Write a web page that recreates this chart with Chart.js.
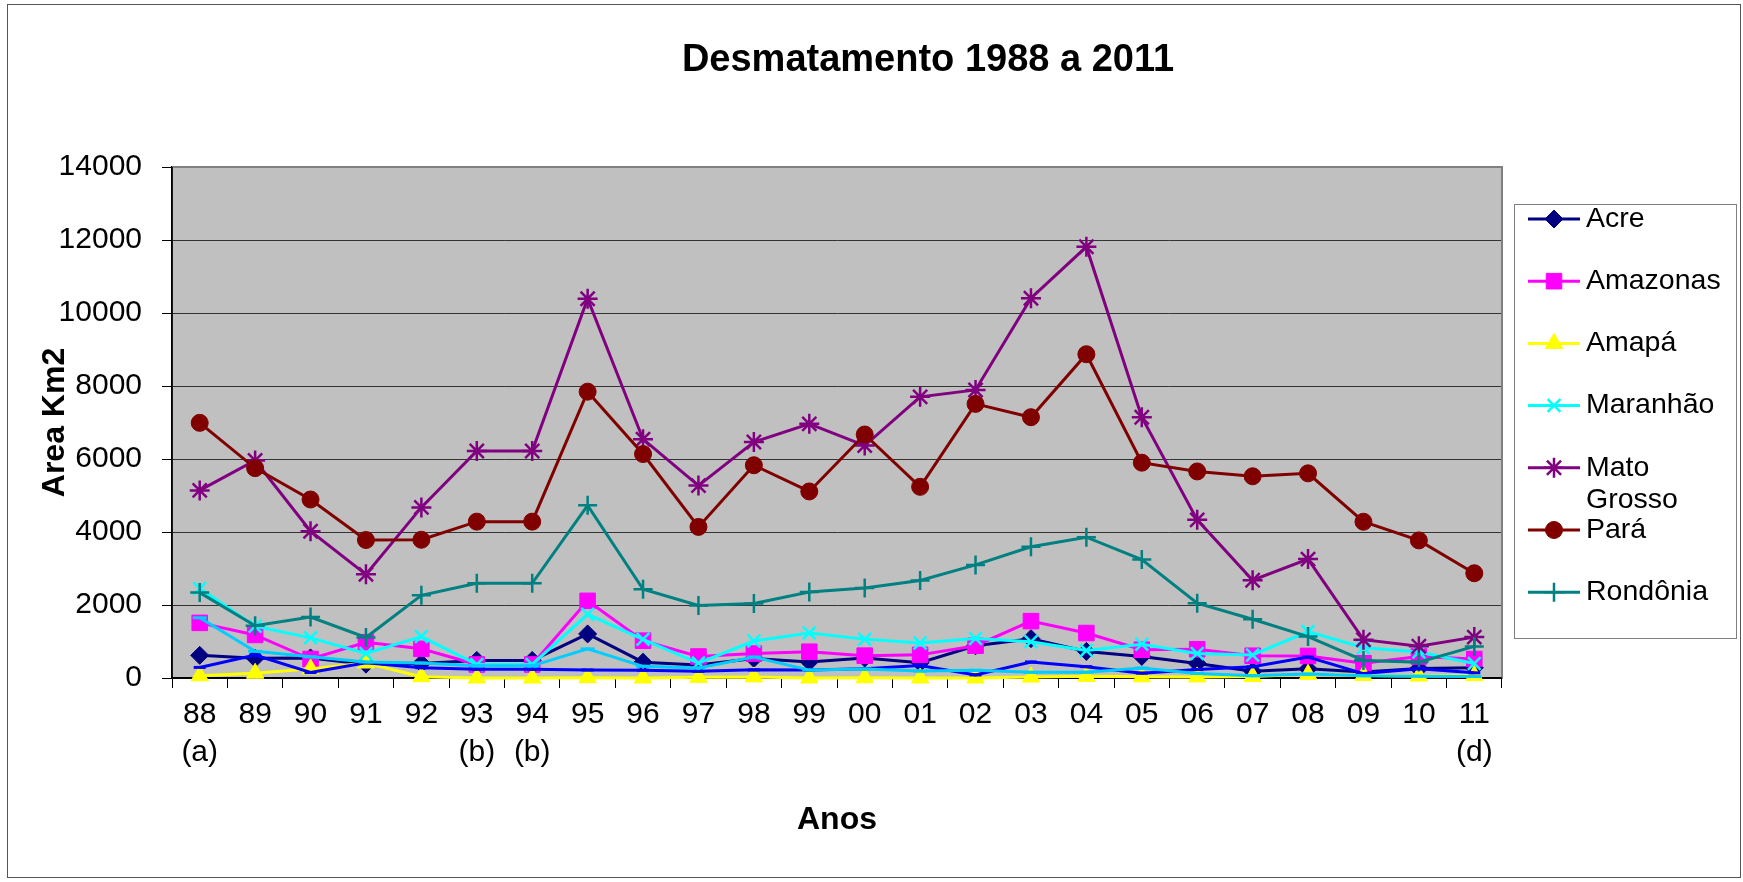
<!DOCTYPE html>
<html><head><meta charset="utf-8">
<style>html,body{margin:0;padding:0;background:#fff;overflow:hidden;}</style>
<script src="https://cdn.jsdelivr.net/npm/chart.js@4.4.1/dist/chart.umd.min.js"></script>
</head><body>
<canvas id="c" width="1743" height="882" style="display:block;width:1743px;height:882px"></canvas>
<script>
// ---- data ----
const years = ["88","89","90","91","92","93","94","95","96","97","98","99","00","01","02","03","04","05","06","07","08","09","10","11"];
const notes = ["(a)","","","","","(b)","(b)","","","","","","","","","","","","","","","","","(d)"];
const acre       = [620, 540, 550, 380, 400, 482, 482, 1208, 433, 358, 536, 441, 547, 419, 883, 1078, 728, 592, 398, 184, 254, 167, 259, 280];
const amazonas   = [1510, 1180, 520, 980, 799, 370, 370, 2114, 1023, 589, 670, 720, 612, 634, 885, 1558, 1232, 775, 788, 610, 604, 405, 590, 520];
const amapa      = [60, 130, 250, 410, 36, 0, 0, 9, 0, 18, 30, 0, 7, 0, 0, 25, 46, 33, 30, 39, 100, 70, 53, 66];
const maranhao   = [2450, 1420, 1100, 670, 1135, 372, 372, 1745, 1061, 409, 1012, 1230, 1065, 958, 1085, 993, 755, 922, 674, 631, 1271, 828, 712, 396];
const matoGrosso = [5140, 5960, 4020, 2840, 4674, 6220, 6220, 10391, 6543, 5271, 6466, 6963, 6369, 7703, 7892, 10405, 11814, 7145, 4333, 2678, 3258, 1049, 871, 1120];
const para       = [6990, 5750, 4890, 3780, 3787, 4284, 4284, 7845, 6135, 4139, 5829, 5111, 6671, 5237, 7510, 7145, 8870, 5899, 5659, 5526, 5607, 4281, 3770, 2870];
const rondonia   = [2340, 1430, 1670, 1110, 2265, 2595, 2595, 4730, 2432, 1986, 2041, 2358, 2465, 2673, 3099, 3597, 3858, 3244, 2049, 1611, 1136, 482, 435, 865];
const roraima    = [290, 630, 150, 420, 281, 240, 240, 220, 214, 184, 223, 220, 253, 345, 84, 439, 311, 133, 231, 309, 574, 121, 256, 141];
const tocantins  = [1650, 730, 580, 440, 409, 333, 333, 797, 320, 273, 576, 216, 244, 189, 212, 156, 158, 271, 124, 63, 107, 61, 49, 40];
const seriesNames = ["Acre","Amazonas","Amapá","Maranhão","Mato Grosso","Pará","Rondônia","Roraima","Tocantins"];
const legendLabels = [["Acre"],["Amazonas"],["Amapá"],["Maranhão"],["Mato","Grosso"],["Pará"],["Rondônia"]];
const titleText = "Desmatamento 1988 a 2011";
const yTitle = "Area Km2";
const xTitle = "Anos";

// ---- styles ----
const FONT = "'Liberation Sans', Arial, sans-serif";
const styles = [
  {c:'#000080', p:'rectRot', r:9},
  {c:'#FF00FF', p:'rect', r:11},
  {c:'#FFFF00', p:'triangle', r:10},
  {c:'#00FFFF', p:'crossRot', r:9, bw:2.5},
  {c:'#800080', p:'star', r:10, bw:2.5},
  {c:'#800000', p:'circle', r:8.5},
  {c:'#008080', p:'cross', r:9.5, bw:2.5},
  {c:'#0000FF', p:'line', r:6, bw:3},
  {c:'#00CCFF', p:'line', r:7, bw:3}
];
const allData = [acre, amazonas, amapa, maranhao, matoGrosso, para, rondonia, roraima, tocantins];
const labels = years.map((y,i)=> notes[i] ? [y, notes[i]] : [y]);
const datasets = allData.map((d,i)=>({
  label: seriesNames[i],
  data: d,
  borderColor: styles[i].c,
  backgroundColor: styles[i].c,
  pointBackgroundColor: styles[i].c,
  pointBorderColor: styles[i].c,
  pointStyle: styles[i].p,
  pointRadius: styles[i].r,
  pointBorderWidth: styles[i].bw || 1,
  borderWidth: 3,
  tension: 0,
  fill: false,
  clip: false,
  order: -i
}));

const decor = {
  id:'decor',
  beforeDraw(chart){
    const {ctx, chartArea:a} = chart;
    ctx.save();
    ctx.fillStyle='#ffffff'; ctx.fillRect(0,0,chart.width,chart.height);
    ctx.fillStyle='#C0C0C0'; ctx.fillRect(a.left,a.top,a.right-a.left,a.bottom-a.top);
    ctx.fillStyle='#000';
    ctx.font = "bold 38px " + FONT;
    ctx.textAlign='center'; ctx.textBaseline='middle';
    ctx.fillText(titleText, 928, 61);
    ctx.restore();
  },
  beforeDatasetsDraw(chart){
    const {ctx, chartArea:a} = chart;
    ctx.save();
    ctx.strokeStyle='#808080'; ctx.lineWidth=2;
    ctx.beginPath(); ctx.moveTo(a.left, a.top); ctx.lineTo(a.right, a.top); ctx.lineTo(a.right, a.bottom); ctx.stroke();
    ctx.strokeStyle='#000'; ctx.lineWidth=1.5;
    ctx.beginPath(); ctx.moveTo(a.left, a.top); ctx.lineTo(a.left, a.bottom); ctx.lineTo(a.right, a.bottom); ctx.stroke();
    ctx.restore();
  },
  afterDraw(chart){
    const ctx = chart.ctx;
    ctx.save();
    ctx.strokeStyle='#555'; ctx.lineWidth=1;
    ctx.strokeRect(7.5,4.5,1733,873);
    const bx=1514.5, by=204.5, bw=222, bh=434;
    ctx.fillStyle='#fff'; ctx.fillRect(bx,by,bw,bh);
    ctx.strokeStyle='#808080'; ctx.lineWidth=1; ctx.strokeRect(bx,by,bw,bh);
    ctx.font = "28.5px " + FONT;
    ctx.textBaseline='middle'; ctx.textAlign='left';
    legendLabels.forEach((lines,i)=>{
      const ds = chart.data.datasets[i];
      const y = 219 + i*62.2;
      ctx.strokeStyle = ds.borderColor; ctx.lineWidth = 3;
      ctx.beginPath(); ctx.moveTo(1528,y); ctx.lineTo(1580,y); ctx.stroke();
      ctx.fillStyle = ds.pointBackgroundColor; ctx.strokeStyle = ds.pointBorderColor;
      ctx.lineWidth = ds.pointBorderWidth;
      Chart.helpers.drawPoint(ctx, {pointStyle: ds.pointStyle, radius: ds.pointRadius, rotation:0, borderWidth: ds.pointBorderWidth}, 1554, y);
      ctx.fillStyle='#000';
      lines.forEach((t,k)=> ctx.fillText(t, 1586, y + k*32));
    });
    ctx.restore();
  }
};

new Chart(document.getElementById('c'), {
  type:'line',
  data:{labels, datasets},
  plugins:[decor],
  options:{
    responsive:false, animation:false, events:[],
    layout:{padding:{left:0, right:241, top:167, bottom:0}},
    plugins:{
      legend:{display:false},
      tooltip:{enabled:false},
      title:{display:false}
    },
    scales:{
      x:{
        offset:true,
        grid:{display:true, offset:true, drawOnChartArea:false, drawTicks:true, tickLength:10, color:'#000', lineWidth:1},
        border:{display:true, color:'#000', width:1.5},
        ticks:{color:'#000', font:{family:FONT, size:30, lineHeight:1.25}, padding:8, maxRotation:0, autoSkip:false},
        title:{display:true, text:xTitle, color:'#000', font:{family:FONT, size:32, weight:'bold', lineHeight:1.2}, padding:{top:0,bottom:43}},
        afterFit(s){ s.height = 204; }
      },
      y:{
        min:0, max:14000,
        ticks:{stepSize:2000, color:'#000', font:{family:FONT, size:30}, padding:20, callback:(v)=>String(v)},
        grid:{color:'#333', lineWidth:1, tickLength:10, tickColor:'#000'},
        border:{display:true, color:'#000', width:1.5},
        title:{display:true, text:yTitle, color:'#000', font:{family:FONT, size:32, weight:'bold', lineHeight:1.2}, padding:{top:36,bottom:0}},
        afterFit(s){ s.width = 172; }
      }
    }
  }
});
</script>
</body></html>
